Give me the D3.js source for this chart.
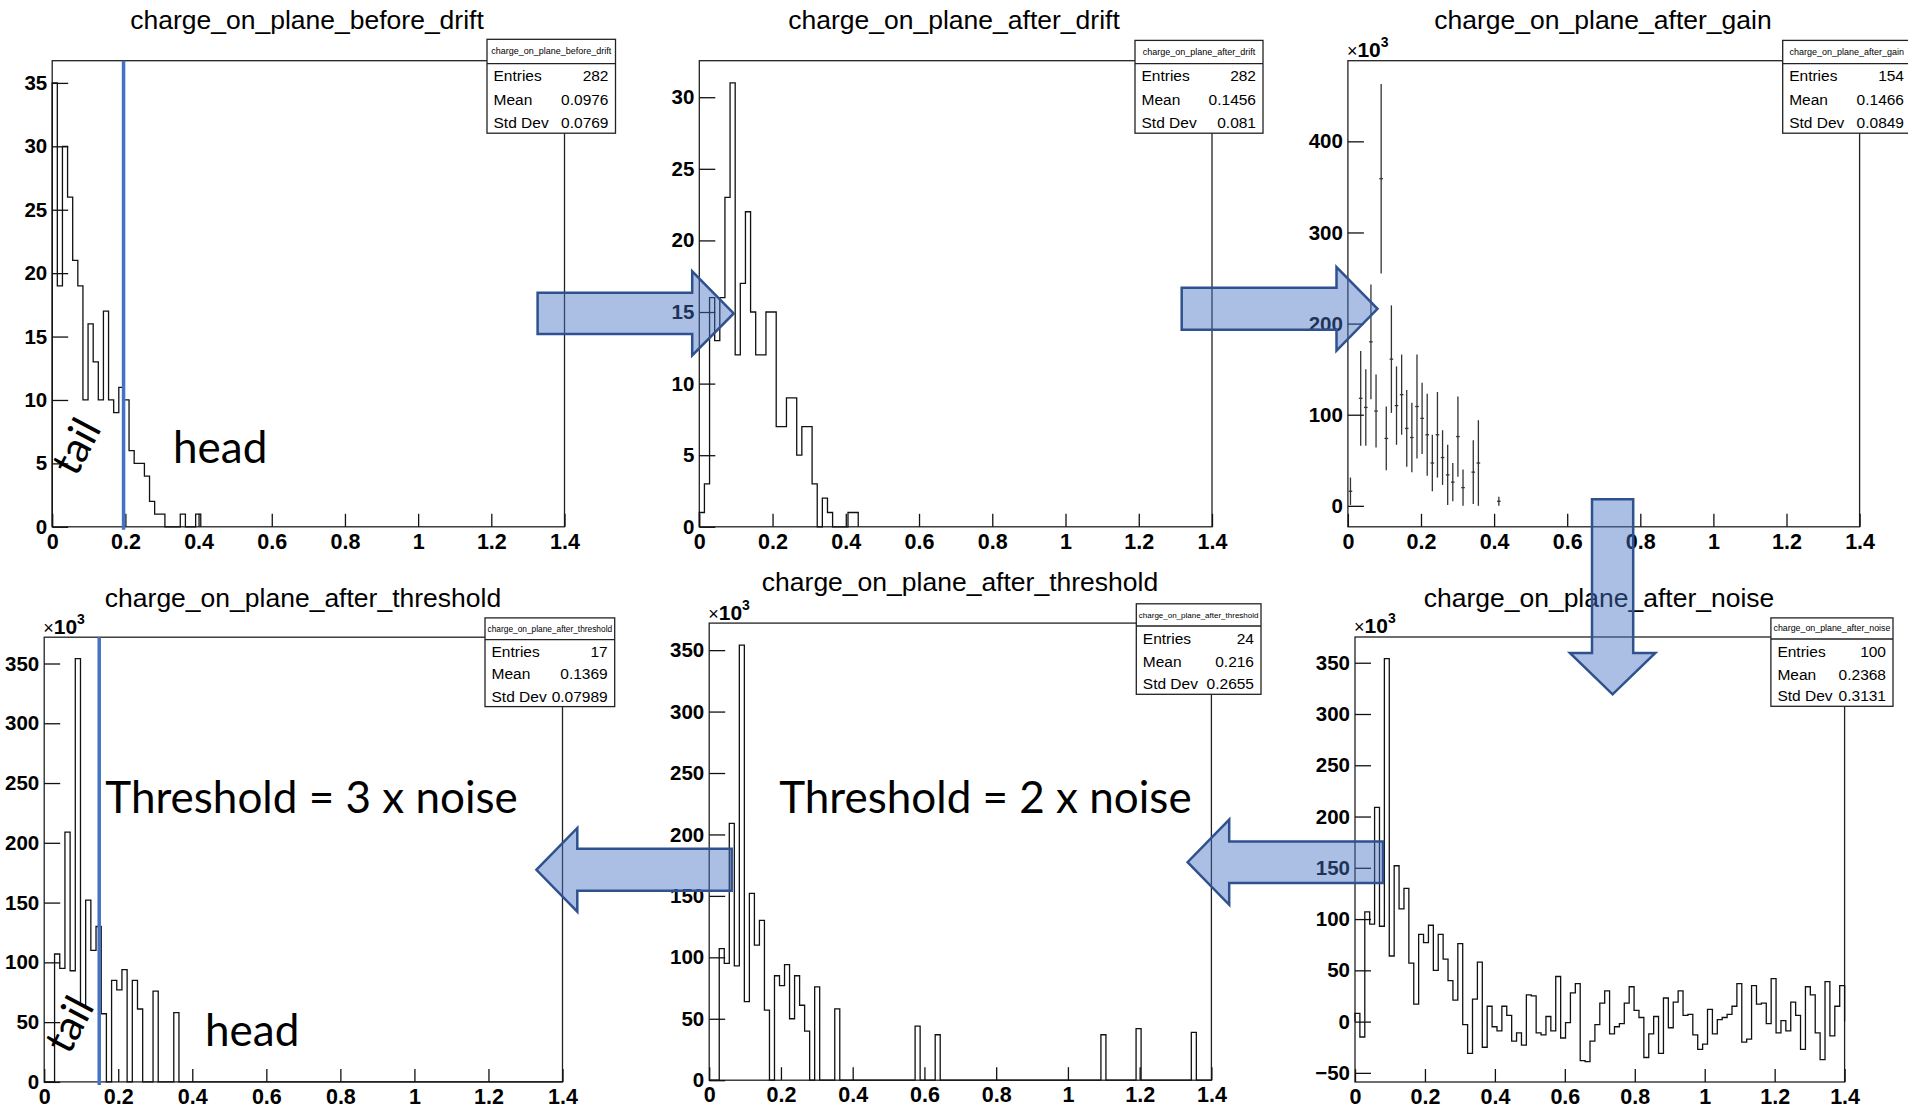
<!DOCTYPE html>
<html>
<head>
<meta charset="utf-8">
<script src="https://cdnjs.cloudflare.com/ajax/libs/d3/7.8.5/d3.min.js"></script>
<style>
body { margin: 0; background: #fff; }
svg { display: block; }
.title { font-family: "Liberation Sans", Arial, sans-serif; font-size: 26.5px; fill: #000; }
.stat { font-family: "Liberation Sans", Arial, sans-serif; font-size: 15.5px; fill: #000; }
.stathead { font-family: "Liberation Sans", Arial, sans-serif; font-size: 9px; fill: #000; }
.note { font-family: Lato, "Open Sans", sans-serif; fill: #000; }
</style>
</head>
<body>
<div id="graph"></div>
<script>
// histogram binning (100 bins over 0..1.4)
var nBins = 100, xMax = 1.4
var binWidth = xMax / nBins
var xTicks = [0, 0.2, 0.4, 0.6, 0.8, 1, 1.2, 1.4]
var xTickLabels = ["0", "0.2", "0.4", "0.6", "0.8", "1", "1.2", "1.4"]

// bin contents (leading bins, rest empty)
var beforeDrift = [35, 19, 30, 26, 21, 19, 10, 16, 13, 10, 17, 10, 9, 11, 10, 6, 5, 5, 4, 2, 1, 1, 0, 0, 0, 1, 0, 0, 1]
var afterDrift = [1, 3, 16, 13, 16, 23, 31, 12, 17, 22, 15, 12, 12, 15, 15, 7, 7, 9, 9, 5, 7, 7, 3, 0, 2, 1, 0, 0, 0, 1, 1]

// after gain, in units of 10^3, with errors
var gainBins = [0, 2, 3, 4, 5, 6, 7, 8, 9, 10, 11, 12, 13, 14, 15, 16, 17, 18, 19, 20, 21, 22, 24, 25, 29]
var gainValues = [16, 118, 108, 180, 104, 359, 74, 161, 110, 122, 85, 75, 109, 96, 78, 47, 78, 53, 34, 26, 76, 20, 37, 47, 5]
var gainErrors = [15, 52, 42, 63, 40, 104, 35, 59, 43, 44, 42, 38, 57, 39, 45, 31, 47, 30, 33, 21, 44, 20, 35, 47, 5]

// after noise, 10^3 units, all 100 bins
var afterNoise = [8, -15, 107, 95, 209, 93, 354, 64, 152, 110,
    130, 57, 17, 85, 77, 94, 50, 85, 61, 40,
    21, 76, -3, -31, 22, 58, -25, 15, -5, -9,
    15, 6, -19, -11, -23, 26, 25, -11, -13, 5,
    -9, 44, -16, -1, 28, 37, -38, -39, -19, -3,
    18, 30, -12, -5, -2, 18, 34, 11, 4, -35,
    -12, 5, -31, 23, -6, 19, 30, 6, 7, -13,
    -27, -22, 12, -12, 2, 4, 7, 15, 37, -20,
    -17, 35, 17, 18, -2, 42, -11, 1, -9, 19,
    6, -27, 34, 26, -11, -37, 39, -14, 15, 35]

// after threshold: surviving bins and their contents (10^3)
var thr3Bins = [2, 3, 4, 5, 6, 7, 8, 9, 10, 11, 13, 14, 15, 17, 18, 21, 25]
var thr3Values = [107, 95, 209, 93, 354, 64, 152, 110, 130, 57, 85, 77, 94, 85, 61, 76, 58]
var thr2Bins = [2, 3, 4, 5, 6, 7, 8, 9, 10, 11, 13, 14, 15, 16, 17, 18, 19, 21, 25, 41, 45, 78, 85, 96]
var thr2Values = [107, 95, 209, 93, 354, 64, 152, 110, 130, 57, 85, 77, 94, 50, 85, 61, 40, 76, 58, 44, 37, 37, 42, 39]

// stats boxes: entries, mean, std dev
var statNames = ["charge_on_plane_before_drift", "charge_on_plane_after_drift", "charge_on_plane_after_gain",
    "charge_on_plane_after_threshold", "charge_on_plane_after_threshold", "charge_on_plane_after_noise"]
var statEntries = ["282", "282", "154", "17", "24", "100"]
var statMeans = ["0.0976", "0.1456", "0.1466", "0.1369", "0.216", "0.2368"]
var statStdDevs = ["0.0769", "0.081", "0.0849", "0.07989", "0.2655", "0.3131"]

// head / tail cut positions
var cutBeforeDrift = 0.195
var cutThreshold3 = 0.1486

function sparse(bins, values) {
    var c = new Array(nBins).fill(0)
    bins.forEach(function(b, i) { c[b] = values[i] })
    return c
}

var panels = [
    {left: 52.2, right: 564.5, top: 60.7, bottom: 526.8, yDomain: [0, 36.75], yMajor: d3.range(0, 36, 5), yMinor: d3.range(0, 37, 1),
     titleX: 307, titleY: 28.5, box: [487, 615.5, 39.3, 133.2, 63.6], rows: [75.7, 99.3, 122.5], counts: beforeDrift, cut: cutBeforeDrift},
    {left: 699.3, right: 1212, top: 60.7, bottom: 526.8, yDomain: [0, 32.55], yMajor: d3.range(0, 31, 5), yMinor: d3.range(0, 33, 1),
     titleX: 954, titleY: 28.5, box: [1135, 1263, 40.4, 133.2, 63.6], rows: [75.7, 99.3, 122.5], counts: afterDrift},
    {left: 1347.9, right: 1859.6, top: 60.7, bottom: 526.8, yDomain: [-23, 488.5], yMajor: d3.range(0, 401, 100), yMinor: d3.range(-20, 481, 20),
     titleX: 1603, titleY: 28.5, box: [1782.7, 1911, 40.4, 133.2, 63.6], rows: [75.7, 99.3, 122.5], errors: true, expo: 57},
    {left: 44.2, right: 562.5, top: 637.2, bottom: 1081.9, yDomain: [0, 372], yMajor: d3.range(0, 351, 50), yMinor: d3.range(0, 371, 10),
     titleX: 303, titleY: 607.4, box: [485, 614.7, 617.9, 706.6, 639.6], rows: [651.2, 673.3, 696.1], counts: sparse(thr3Bins, thr3Values), cut: cutThreshold3, expo: 634.4},
    {left: 709.2, right: 1211.4, top: 623.1, bottom: 1080.2, yDomain: [0, 372], yMajor: d3.range(0, 351, 50), yMinor: d3.range(0, 371, 10),
     titleX: 960, titleY: 591, box: [1136.3, 1261, 603.8, 694.3, 626], rows: [638.9, 661, 683.5], counts: sparse(thr2Bins, thr2Values), expo: 619.6},
    {left: 1355, right: 1844.6, top: 637, bottom: 1082, yDomain: [-58.9, 375.1], yMajor: d3.range(-50, 351, 50), yMinor: d3.range(-50, 371, 10),
     titleX: 1599, titleY: 606.6, box: [1770.9, 1893, 617.9, 706.3, 639], rows: [651.9, 674, 695.7], counts: afterNoise, expo: 632.6}
]

// slide annotations (pixel layout)
var arrows = [
    {dir: "h", x0: 537.6, xb: 692.2, tip: 733.7, c: 313.4, bh: 20.7, hh: 42},
    {dir: "h", x0: 1181.7, xb: 1336.5, tip: 1377.5, c: 308.8, bh: 21, hh: 41.8},
    {dir: "v", x0: 499.3, xb: 653, tip: 694.3, c: 1612.6, bh: 20.6, hh: 42.7},
    {dir: "h", x0: 1383, xb: 1229.2, tip: 1187.6, c: 862.2, bh: 20.7, hh: 42.6},
    {dir: "h", x0: 731.7, xb: 577.3, tip: 536.4, c: 869.8, bh: 21, hh: 41.8}
]

var svg = d3.select("#graph").append("svg")
    .attr("width", 1908)
    .attr("height", 1110)

svg.append("rect").attr("width", 1908).attr("height", 1110).attr("fill", "#fff")

panels.forEach(drawPanel)
drawNotes()
drawArrows()

function drawPanel(p, idx) {
    var x = d3.scaleLinear().domain([0, xMax]).range([p.left, p.right])
    var y = d3.scaleLinear().domain(p.yDomain).range([p.bottom, p.top])
    var g = svg.append("g")

    g.append("text")
        .attr("class", "title")
        .attr("x", p.titleX)
        .attr("y", p.titleY)
        .attr("text-anchor", "middle")
        .text(statNames[idx])

    g.append("rect")
        .attr("x", p.left).attr("y", p.top)
        .attr("width", p.right - p.left).attr("height", p.bottom - p.top)
        .attr("fill", "none")
        .attr("stroke", "#222")
        .attr("stroke-width", 1.3)

    if (p.errors) {
        var eb = g.append("g").attr("stroke", "#333").attr("stroke-width", 1.3)
        gainBins.forEach(function(b, i) {
            var xc = x((b + 0.5) * binWidth)
            eb.append("line")
                .attr("x1", xc).attr("x2", xc)
                .attr("y1", y(gainValues[i] - gainErrors[i])).attr("y2", y(gainValues[i] + gainErrors[i]))
            eb.append("line")
                .attr("x1", x((b + 0.15) * binWidth)).attr("x2", x((b + 0.85) * binWidth))
                .attr("y1", y(gainValues[i])).attr("y2", y(gainValues[i]))
        })
    } else {
        var pts = [[0, 0]]
        p.counts.forEach(function(c, i) {
            pts.push([i * binWidth, c], [(i + 1) * binWidth, c])
        })
        pts.push([p.counts.length * binWidth, 0])
        g.append("path")
            .datum(pts)
            .attr("d", d3.line().x(function(d) { return x(d[0]) }).y(function(d) { return y(d[1]) }))
            .attr("fill", "none")
            .attr("stroke", "#111")
            .attr("stroke-width", 1.3)
    }

    // ticks drawn inside the frame, ROOT style
    var ax = g.append("g").attr("transform", "translate(0," + p.bottom + ")")
    ax.call(d3.axisBottom(x).tickValues(d3.range(0, 1.401, 0.05)).tickSize(-7).tickFormat(""))
    ax.call(d3.axisBottom(x).tickValues(xTicks).tickSize(-13).tickPadding(7)
        .tickFormat(function(d, i) { return xTickLabels[i] }))

    var ay = g.append("g").attr("transform", "translate(" + p.left + ",0)")
    ay.call(d3.axisLeft(y).tickValues(p.yMinor).tickSize(-8).tickFormat(""))
    ay.call(d3.axisLeft(y).tickValues(p.yMajor).tickSize(-16).tickPadding(5).tickFormat(d3.format("d")))

    g.selectAll(".domain").remove()
    g.selectAll(".tick line").attr("stroke", "#111").attr("stroke-width", 1.3)
    g.selectAll(".tick text")
        .attr("font-family", "'Liberation Sans', Arial, sans-serif")
        .attr("font-weight", "bold")
        .attr("fill", "#000")
    ax.selectAll(".tick text").attr("font-size", 21.5)
    ay.selectAll(".tick text").attr("font-size", 20.5)

    if (p.expo) {
        var t = g.append("text")
            .attr("x", p.left - 1)
            .attr("y", p.expo)
            .attr("font-family", "'Liberation Sans', Arial, sans-serif")
            .attr("fill", "#000")
        t.append("tspan").attr("font-size", 18).text("\u00d7")
        t.append("tspan").attr("font-size", 21).attr("font-weight", "bold").text("10")
        t.append("tspan").attr("font-size", 14).attr("font-weight", "bold").attr("dy", -10).text("3")
    }

    if (p.cut !== undefined) {
        g.append("line")
            .attr("x1", x(p.cut)).attr("x2", x(p.cut))
            .attr("y1", p.top).attr("y2", p.bottom + 3)
            .attr("stroke", "#4472c4")
            .attr("stroke-width", 3.5)
    }

    // stats box
    var b = p.box
    var sb = g.append("g")
    sb.append("rect")
        .attr("x", b[0]).attr("y", b[2])
        .attr("width", b[1] - b[0]).attr("height", b[3] - b[2])
        .attr("fill", "#fff").attr("stroke", "#222").attr("stroke-width", 1.3)
    sb.append("line")
        .attr("x1", b[0]).attr("x2", b[1]).attr("y1", b[4]).attr("y2", b[4])
        .attr("stroke", "#222").attr("stroke-width", 1.3)
    var head = sb.append("text")
        .attr("class", "stathead")
        .attr("x", (b[0] + b[1]) / 2).attr("y", (b[2] + b[4]) / 2 + 3)
        .attr("text-anchor", "middle")
        .text(statNames[idx])
    // shrink the header so it fits its box, like ROOT does
    var room = Math.min(b[1], 1908) - b[0] - 5
    var len = head.node().getComputedTextLength()
    if (len > room) head.style("font-size", (9 * room / len) + "px")
    var rowLabels = ["Entries", "Mean", "Std Dev"]
    var rowValues = [statEntries[idx], statMeans[idx], statStdDevs[idx]]
    rowLabels.forEach(function(lab, i) {
        sb.append("text").attr("class", "stat")
            .attr("x", b[0] + 6.5).attr("y", p.rows[i] + 5.5)
            .text(lab)
        sb.append("text").attr("class", "stat")
            .attr("x", b[1] - 7).attr("y", p.rows[i] + 5.5)
            .attr("text-anchor", "end")
            .text(rowValues[i])
    })
}

function drawNotes() {
    var notes = [
        {text: "tail", x: 76, y: 478, size: 42, rot: -62},
        {text: "head", x: 173, y: 462.5, size: 44},
        {text: "tail", x: 69, y: 1056, size: 42, rot: -62},
        {text: "head", x: 205, y: 1045.8, size: 44},
        {text: "Threshold = 3 x noise", x: 105.3, y: 813.2, size: 44},
        {text: "Threshold = 2 x noise", x: 779.2, y: 813.2, size: 44}
    ]
    svg.append("g").selectAll("text")
        .data(notes)
        .enter().append("text")
        .attr("class", "note")
        .attr("font-size", function(d) { return d.size })
        .attr("transform", function(d) {
            return "translate(" + d.x + "," + d.y + ")" + (d.rot ? " rotate(" + d.rot + ")" : "")
        })
        .text(function(d) { return d.text })
}

function drawArrows() {
    var shape = function(a) {
        var pts = [[a.x0, a.c - a.bh], [a.xb, a.c - a.bh], [a.xb, a.c - a.hh], [a.tip, a.c],
                   [a.xb, a.c + a.hh], [a.xb, a.c + a.bh], [a.x0, a.c + a.bh]]
        if (a.dir == "v") pts = pts.map(function(q) { return [q[1], q[0]] })
        return pts.map(function(q) { return q.join(",") }).join(" ")
    }
    svg.append("g").selectAll("polygon")
        .data(arrows)
        .enter().append("polygon")
        .attr("points", shape)
        .attr("fill", "#4472c4")
        .attr("fill-opacity", 0.45)
        .attr("stroke", "#2f528f")
        .attr("stroke-width", 2.5)
        .attr("stroke-linejoin", "miter")
}
</script>
</body>
</html>
